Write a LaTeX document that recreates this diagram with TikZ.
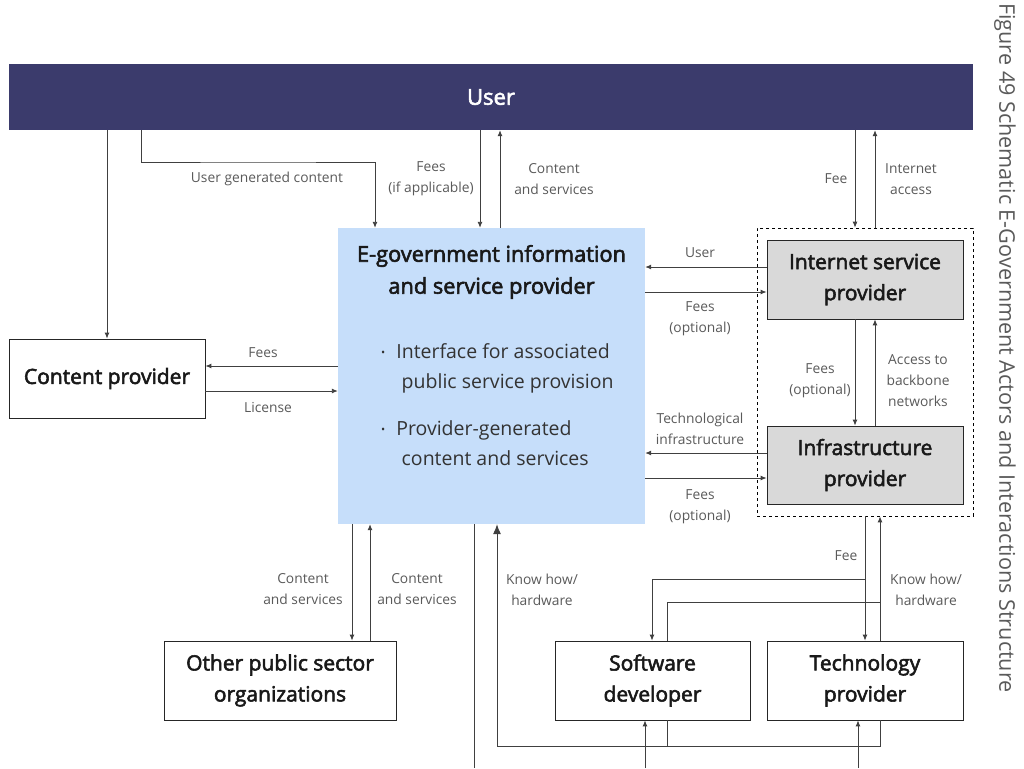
\documentclass[tikz,border=0pt]{standalone}
\usepackage{fontspec}
\setmainfont{Open Sans}
\newfontfamily\semib{Open Sans}[FakeBold=2.6]
\usetikzlibrary{arrows.meta}
\definecolor{navy}{HTML}{3B3B6C}
\definecolor{egblue}{HTML}{C6DEFA}
\definecolor{gbox}{HTML}{D9D9D9}
\definecolor{lbl}{HTML}{5A5A5A}
\definecolor{ln}{HTML}{404040}
\tikzset{
  box/.style={draw=black!85, line width=0.8pt, rectangle, inner sep=0pt, align=center, font=\semib\fontsize{21}{31}\selectfont, text=black!90},
  gbx/.style={box, fill=gbox},
  lab/.style={text=lbl, align=center, font=\fontsize{13.8}{21}\selectfont, inner sep=0pt},
  con/.style={draw=ln, line width=0.9pt, -{Latex[length=6pt,width=5pt]}},
  plain/.style={draw=ln, line width=0.9pt},
  bul/.style={font=\fontsize{19.5}{30}\selectfont, align=left, anchor=north west, inner sep=0pt, text=black!80},
}
\newcommand{\mybul}{\raisebox{2pt}{\fontsize{11}{11}\selectfont\textbullet}\hspace{11pt}}
\begin{document}
\begin{tikzpicture}[x=1pt,y=-1pt]
\useasboundingbox (0,0) rectangle (1024,768);
\fill[white] (0,0) rectangle (1024,768);
% nodes
\node[rectangle, fill=navy, minimum width=964pt, minimum height=66pt, inner sep=0pt, text=white, font=\semib\fontsize{22}{26}\selectfont] (user) at (491,97) {User};
\node[rectangle, fill=egblue, minimum width=307pt, minimum height=296pt, inner sep=0pt] (egov) at (491.5,376) {};
\node[font=\semib\fontsize{21.8}{32}\selectfont, align=center, inner sep=0pt, text=black!90] (egtitle) at (491.5,272) {E-government information\\and service provider};
\node[bul] (bul1) at (381,343) {\mybul Interface for associated\\\hspace{20.5pt}public service provision};
\node[bul] (bul2) at (381,420) {\mybul Provider-generated\\\hspace{20.5pt}content and services};
\node[box, minimum width=196pt, minimum height=79pt] (cp) at (107,378.5) {Content provider};
\node[rectangle, draw=black, dashed, line width=0.7pt, minimum width=216pt, minimum height=288pt, inner sep=0pt] (dash) at (865,372) {};
\node[gbx, minimum width=196pt, minimum height=79pt] (isp) at (865,279.5) {Internet service\\provider};
\node[gbx, minimum width=196pt, minimum height=78pt] (inf) at (865,465) {Infrastructure\\provider};
\node[box, minimum width=232pt, minimum height=79pt] (ops) at (280,680.5) {Other public sector\\organizations};
\node[box, minimum width=195pt, minimum height=79pt] (sd) at (652.5,680.5) {Software\\developer};
\node[box, minimum width=196pt, minimum height=79pt] (tp) at (865,680.5) {Technology\\provider};
% caption
\node[rotate=-90, anchor=west, text=lbl, font=\fontsize{21.6}{24}\selectfont, inner sep=0pt] (cap) at (1005,3) {Figure 49 Schematic E-Government Actors and Interactions Structure};
% free ends
\coordinate (b1) at (474,768);
\coordinate (b2) at (645,768);
\coordinate (b3) at (858,768);
% connectors from User
\draw[con] (user.south -| 107,0) -- (cp.north);
\draw[con] (user.south -| 141,0) |- (258,162) -| (egov.north -| 375,0);
\draw[con] (user.south -| 480,0) -- (egov.north -| 480,0);
\draw[con] (egov.north -| 500,0) -- (user.south -| 500,0);
\draw[con] (user.south -| 855,0) -- (dash.north -| 855,0);
\draw[con] (dash.north -| 875,0) -- (user.south -| 875,0);
% content provider
\draw[con] (egov.west |- 0,366) -- (cp.east |- 0,366);
\draw[con] (cp.east |- 0,391) -- (egov.west |- 0,391);
% ISP / infra
\draw[con] (isp.west |- 0,267) -- (egov.east |- 0,267);
\draw[con] (egov.east |- 0,292) -- (isp.west |- 0,292);
\draw[con] (inf.west |- 0,453) -- (egov.east |- 0,453);
\draw[con] (egov.east |- 0,478) -- (inf.west |- 0,478);
\draw[con] (isp.south -| 855,0) -- (inf.north -| 855,0);
\draw[con] (inf.north -| 875,0) -- (isp.south -| 875,0);
% other public sector
\draw[con] (egov.south -| 352,0) -- (ops.north -| 352,0);
\draw[con] (ops.north -| 370,0) -- (egov.south -| 370,0);
% bottom
\draw[plain] (egov.south -| 474,0) -- (b1);
\draw[con] (b2) -- (sd.south -| 645,0);
\draw[con] (b3) -- (tp.south -| 858,0);
\draw[draw=ln, line width=0.9pt, -{Latex[length=10pt,width=8pt]}] (tp.south -| 880,0) |- (600,746) -| (egov.south -| 497,0);
\draw[plain] (sd.south -| 667,0) -- (667,746);
% fee / know how
\draw[con] (dash.south -| 865,0) -- (tp.north -| 865,0);
\draw[con] (865,579) -| (sd.north -| 652,0);
\draw[con] (tp.north -| 880,0) -- (dash.south -| 880,0);
\draw[plain] (sd.north -| 667,0) |- (880,602);
% labels
\node[lab] (l1) at (267,179) {User generated content};
\node[lab] (l2) at (431,179) {Fees\\(if applicable)};
\node[lab] (l3) at (554,179) {Content\\and services};
\node[lab] (l4) at (836,179) {Fee};
\node[lab] (l5) at (911,179) {Internet\\access};
\node[lab] (l6) at (263,353) {Fees};
\node[lab] (l7) at (268,407) {License};
\node[lab] (l8) at (700,253) {User};
\node[lab] (l9) at (700,318.5) {Fees\\(optional)};
\node[lab] (l10) at (700,428.5) {Technological\\infrastructure};
\node[lab] (l11) at (700,506.5) {Fees\\(optional)};
\node[lab] (l12) at (820,381) {Fees\\(optional)};
\node[lab] (l13) at (918,381) {Access to\\backbone\\networks};
\node[lab] (l14) at (303,589.5) {Content\\and services};
\node[lab] (l15) at (417,589.5) {Content\\and services};
\node[lab] (l16) at (542,589.5) {Know how/\\hardware};
\node[lab] (l17) at (846,556) {Fee};
\node[lab] (l18) at (926,589.5) {Know how/\\hardware};
\end{tikzpicture}
\end{document}
